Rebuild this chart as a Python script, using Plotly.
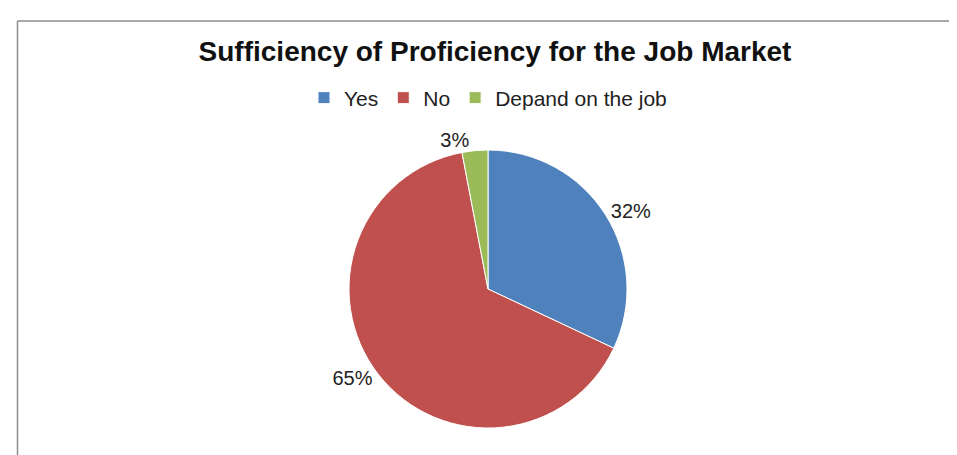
import plotly.graph_objects as go

labels = ["Yes", "No", "Depand on the job"]
values = [32, 65, 3]
colors = ["#4F81BD", "#C0504D", "#9BBB59"]

W, H = 957, 455

fig = go.Figure(go.Pie(
    labels=labels,
    values=values,
    sort=False,
    direction="clockwise",
    rotation=0,
    marker=dict(colors=colors, line=dict(color="white", width=1)),
    textinfo="percent",
    texttemplate="%{percent:.0%}",
    textposition="outside",
    textfont=dict(family="Liberation Sans, Arial", size=20, color="#222222"),
    domain=dict(x=[340 / W, 620 / W], y=[1 - 420 / H, 1 - 142 / H]),
    hoverinfo="label+percent",
))

fig.update_layout(
    width=W, height=H,
    margin=dict(l=0, r=0, t=0, b=0),
    paper_bgcolor="white",
    plot_bgcolor="white",
    title=dict(
        text="<b>Sufficiency of Proficiency for the Job Market</b>",
        x=487 / W, xanchor="center",
        y=1 - 43 / H, yanchor="middle",
        font=dict(family="Liberation Sans, Arial", size=28, color="#111111"),
    ),
    legend=dict(
        orientation="h",
        x=480 / W, xanchor="center",
        y=1 - 90 / H, yanchor="middle",
        font=dict(family="Liberation Sans, Arial", size=21, color="#222222"),
        itemwidth=30,
        traceorder="normal",
    ),
    shapes=[
        dict(type="line", xref="paper", yref="paper",
             x0=9.5 / W, x1=9.5 / W, y0=0, y1=1 - 13 / H,
             line=dict(color="#8C8C8C", width=1.5)),
        dict(type="line", xref="paper", yref="paper",
             x0=9.5 / W, x1=1, y0=1 - 13 / H, y1=1 - 13 / H,
             line=dict(color="#8C8C8C", width=1.5)),
    ],
)

fig.write_html("out.html")
